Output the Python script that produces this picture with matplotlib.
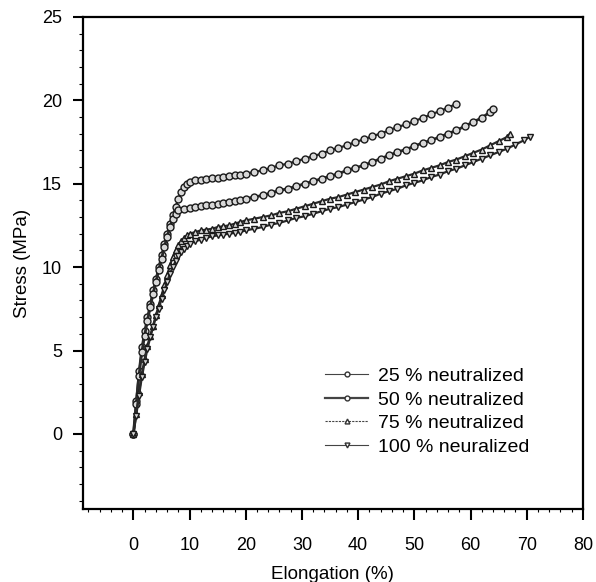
import matplotlib
matplotlib.use("Agg")
import matplotlib.pyplot as plt
from matplotlib.ticker import MultipleLocator

plt.rcParams['font.family'] = ['Liberation Sans', 'DejaVu Sans']

labels = ["25 % neutralized", "50 % neutralized", "75 % neutralized", "100 % neuralized"]

x_25 = [0, 0.5, 1, 1.5, 2, 2.5, 3, 3.5, 4, 4.5, 5, 5.5, 6, 6.5, 7, 7.5, 8, 8.5, 9, 9.5,
        10, 11, 12, 13, 14, 15, 16, 17, 18, 19, 20, 21.5, 23, 24.5, 26, 27.5, 29, 30.5,
        32, 33.5, 35, 36.5, 38, 39.5, 41, 42.5, 44, 45.5, 47, 48.5, 50, 51.5, 53, 54.5,
        56, 57.5]
y_25 = [0, 2.0, 3.8, 5.2, 6.2, 7.0, 7.8, 8.6, 9.3, 10.0, 10.7, 11.4, 12.0, 12.6, 13.1,
        13.6, 14.1, 14.5, 14.8, 15.0, 15.1, 15.2, 15.25, 15.3, 15.35, 15.35, 15.4, 15.45,
        15.5, 15.55, 15.6, 15.7, 15.8, 15.95, 16.1, 16.2, 16.35, 16.5, 16.65, 16.8, 17.0,
        17.15, 17.3, 17.5, 17.65, 17.85, 18.0, 18.2, 18.4, 18.55, 18.75, 18.95, 19.15,
        19.35, 19.55, 19.8]

x_50 = [0, 0.5, 1, 1.5, 2, 2.5, 3, 3.5, 4, 4.5, 5, 5.5, 6, 6.5, 7, 7.5, 8, 9, 10, 11,
        12, 13, 14, 15, 16, 17, 18, 19, 20, 21.5, 23, 24.5, 26, 27.5, 29, 30.5, 32, 33.5,
        35, 36.5, 38, 39.5, 41, 42.5, 44, 45.5, 47, 48.5, 50, 51.5, 53, 54.5, 56, 57.5,
        59, 60.5, 62, 63.5, 64]
y_50 = [0, 1.8, 3.5, 4.9, 5.9, 6.8, 7.6, 8.4, 9.1, 9.8, 10.5, 11.2, 11.8, 12.4, 12.9,
        13.2, 13.4, 13.5, 13.55, 13.6, 13.65, 13.7, 13.75, 13.8, 13.85, 13.9, 13.95,
        14.05, 14.1, 14.2, 14.3, 14.45, 14.6, 14.7, 14.85, 15.0, 15.15, 15.3, 15.45, 15.6,
        15.8, 15.95, 16.1, 16.3, 16.5, 16.7, 16.9, 17.05, 17.25, 17.45, 17.6, 17.8, 18.0,
        18.2, 18.45, 18.7, 18.95, 19.3, 19.45]

x_75 = [0, 0.5, 1, 1.5, 2, 2.5, 3, 3.5, 4, 4.5, 5, 5.5, 6, 6.5, 7, 7.5, 8, 8.5, 9, 9.5,
        10, 11, 12, 13, 14, 15, 16, 17, 18, 19, 20, 21.5, 23, 24.5, 26, 27.5, 29, 30.5,
        32, 33.5, 35, 36.5, 38, 39.5, 41, 42.5, 44, 45.5, 47, 48.5, 50, 51.5, 53, 54.5,
        56, 57.5, 59, 60.5, 62, 63.5, 65, 66.5, 67]
y_75 = [0, 1.2, 2.5, 3.6, 4.5, 5.3, 5.9, 6.5, 7.1, 7.7, 8.3, 8.9, 9.5, 10.1, 10.6, 11.0,
        11.3, 11.55, 11.75, 11.9, 12.0, 12.1, 12.2, 12.25, 12.3, 12.4, 12.45, 12.5, 12.6,
        12.7, 12.8, 12.9, 13.0, 13.1, 13.25, 13.35, 13.5, 13.65, 13.8, 13.95, 14.1, 14.2,
        14.35, 14.5, 14.65, 14.8, 14.95, 15.15, 15.3, 15.45, 15.6, 15.8, 15.95, 16.1,
        16.3, 16.45, 16.65, 16.85, 17.05, 17.3, 17.55, 17.8, 18.0]

x_100 = [0, 0.5, 1, 1.5, 2, 2.5, 3, 3.5, 4, 4.5, 5, 5.5, 6, 6.5, 7, 7.5, 8, 8.5, 9, 9.5,
         10, 11, 12, 13, 14, 15, 16, 17, 18, 19, 20, 21.5, 23, 24.5, 26, 27.5, 29, 30.5,
         32, 33.5, 35, 36.5, 38, 39.5, 41, 42.5, 44, 45.5, 47, 48.5, 50, 51.5, 53, 54.5,
         56, 57.5, 59, 60.5, 62, 63.5, 65, 66.5, 68, 69.5, 70.5]
y_100 = [0, 1.1, 2.3, 3.4, 4.3, 5.1, 5.8, 6.4, 7.0, 7.5, 8.1, 8.6, 9.1, 9.6, 10.0, 10.35,
         10.65, 10.9, 11.1, 11.25, 11.4, 11.55, 11.65, 11.75, 11.85, 11.9, 11.95, 12.0,
         12.05, 12.1, 12.2, 12.3, 12.4, 12.55, 12.65, 12.8, 12.95, 13.05, 13.2, 13.35,
         13.5, 13.6, 13.75, 13.9, 14.05, 14.2, 14.4, 14.55, 14.7, 14.9, 15.05, 15.2, 15.4,
         15.55, 15.75, 15.9, 16.1, 16.3, 16.5, 16.7, 16.9, 17.1, 17.35, 17.6, 17.8]

series = [(x_25, y_25), (x_50, y_50), (x_75, y_75), (x_100, y_100)]
markers = ['o', 'o', '^', 'v']
linewidths = [1.6, 2.0, 1.6, 1.6]
legend_lw = [0.8, 1.6, 0.8, 0.8]
legend_ls = ['-', '-', (0, (2, 1)), '-']

xticks = [0, 10, 20, 30, 40, 50, 60, 70, 80]
yticks = [0, 5, 10, 15, 20, 25]

fig = plt.figure(figsize=(5.96, 5.82), dpi=100)
ax = fig.add_axes([0.139, 0.1254, 0.839, 0.8456])

for (xs, ys), m, lw, lab in zip(series, markers, linewidths, labels):
    ax.plot(xs, ys, color='#2a2a2a', lw=lw, marker=m, markersize=5.0,
            markerfacecolor='#d8d8d8', markeredgecolor='#1a1a1a', markeredgewidth=1.0,
            label=lab)

ax.set_xlim(-9, 80)
ax.set_ylim(-4.5, 25)
ax.set_xticks(xticks)
ax.set_yticks(yticks)
ax.xaxis.set_minor_locator(MultipleLocator(2))
ax.yaxis.set_minor_locator(MultipleLocator(1))
ax.tick_params(axis='x', which='major', direction='out', length=8, width=1.5, pad=12, labelsize=13)
ax.tick_params(axis='x', which='minor', direction='out', length=2, width=0.8)
ax.tick_params(axis='y', which='major', direction='out', length=7, width=1.5, pad=8, labelsize=13)
ax.tick_params(axis='y', which='minor', direction='out', length=3, width=0.8)
for s in ax.spines.values():
    s.set_linewidth(1.6)

ax.set_xlabel("Elongation (%)", fontsize=13.5, labelpad=9)
ax.set_ylabel("Stress (MPa)", fontsize=13.5, labelpad=8)

handles, _ = ax.get_legend_handles_labels()
leg = ax.legend(handles, labels, loc='upper left', bbox_to_anchor=(0.45, 0.323), frameon=False,
                fontsize=14, handlelength=2.2, handletextpad=0.5, labelspacing=0.3,
                markerscale=0.7)
for h, lw, ls in zip(leg.get_lines(), legend_lw, legend_ls):
    h.set_linewidth(lw)
    h.set_linestyle(ls)
    h.set_color('#444444')
    h.set_markerfacecolor('white')
    h.set_markeredgecolor('#333333')

fig.savefig("out.png", dpi=100)
